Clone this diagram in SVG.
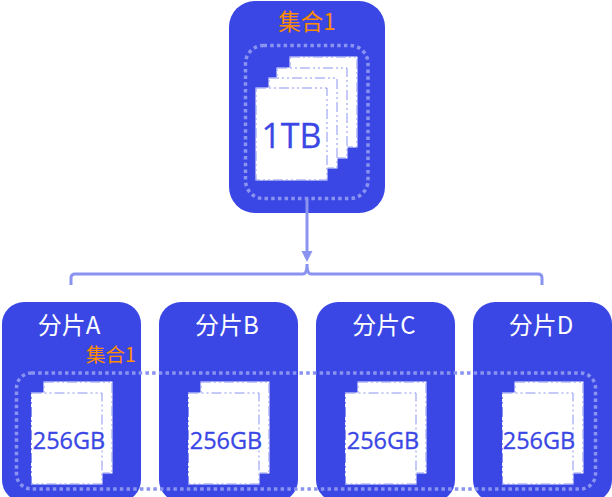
<svg xmlns="http://www.w3.org/2000/svg" width="612" height="497" viewBox="0 0 612 497">
<style>
.box{fill:#3a47e4}
.page{fill:#fff;stroke:#fff;stroke-width:1}
.edge{fill:none;stroke:#8a94f0;stroke-width:1;stroke-dasharray:10 3 2 3 2 3}
.dot{fill:none;stroke:#8a94f0;stroke-width:3.5;stroke-dasharray:3.5 3.2}
.t{font-family:"Noto Sans CJK SC","Open Sans",sans-serif}
.o{fill:#ff8c00}
.w{fill:#fff;font-size:24px;text-anchor:middle}
.b{fill:#3a47e4;text-anchor:middle;font-family:"Open Sans","Noto Sans",sans-serif;stroke:#3a47e4;stroke-width:.3}
.c{fill:none;stroke:#8a94f0;stroke-width:3}
</style>
<defs>
<g id="pair">
<rect class="page" x="44" y="382" width="68" height="91"/>
<rect class="edge" x="44" y="382" width="68" height="91"/>
<rect class="page" x="31.500" y="393" width="70.500" height="91"/>
<rect class="edge" x="31.500" y="393" width="70.500" height="91"/>
</g>
</defs>
<g id="node-set">
<rect class="box" x="229" y="1" width="156" height="212" rx="26"/>
<text class="t o" x="307" y="30" font-size="22.500" text-anchor="middle">集合1</text>
<rect class="page" x="290" y="57" width="67" height="90"/>
<rect class="edge" x="290" y="57" width="67" height="90"/>
<rect class="page" x="277" y="68" width="70" height="90"/>
<rect class="edge" x="277" y="68" width="70" height="90"/>
<rect class="page" x="269" y="78" width="68" height="90"/>
<rect class="edge" x="269" y="78" width="68" height="90"/>
<rect class="page" x="256" y="88" width="71" height="92"/>
<rect class="edge" x="256" y="88" width="71" height="92"/>
<rect class="dot" x="245.500" y="45.500" width="122.500" height="153" rx="18"/>
<text class="b" x="291.500" y="148" font-size="34">1TB</text>
</g>
<g id="node-a">
<rect class="box" x="2" y="302" width="139" height="200" rx="22"/>
<text class="t w" x="69" y="334">分片A</text>
</g>
<g id="node-b">
<rect class="box" x="159" y="302" width="139" height="200" rx="22"/>
<text class="t w" x="227" y="334">分片B</text>
</g>
<g id="node-c">
<rect class="box" x="316" y="302" width="139" height="200" rx="22"/>
<text class="t w" x="384" y="334">分片C</text>
</g>
<g id="node-d">
<rect class="box" x="473" y="302" width="139" height="200" rx="22"/>
<text class="t w" x="541" y="334">分片D</text>
</g>
<g id="pages">
<use href="#pair"/>
<use href="#pair" x="157"/>
<use href="#pair" x="314"/>
<use href="#pair" x="471"/>
<text class="b" x="69" y="449" font-size="23.500">256GB</text>
<text class="b" x="226" y="449" font-size="23.500">256GB</text>
<text class="b" x="383" y="449" font-size="23.500">256GB</text>
<text class="b" x="539" y="449" font-size="23.500">256GB</text>
</g>
<g id="set-outline">
<rect class="dot" x="16.500" y="373" width="579" height="116" rx="15"/>
<text class="t o" x="111" y="362" font-size="19.500" text-anchor="middle">集合1</text>
</g>
<g id="connectors">
<path class="c" d="M307 198V252"/>
<path d="M301.500 251H312.500L307 262Z" fill="#8a94f0"/>
<path class="c" d="M71 285V278Q71 274 75 274H303Q307 274 307 264Q307 274 311 274H538Q542 274 542 278V285"/>
</g>
</svg>
